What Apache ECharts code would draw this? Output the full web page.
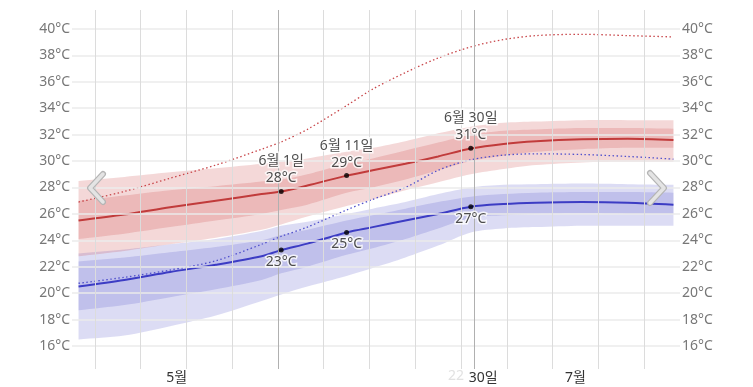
<!DOCTYPE html>
<html><head><meta charset="utf-8">
<script src="https://cdn.jsdelivr.net/npm/echarts@6/dist/echarts.min.js"></script>
<style>html,body{margin:0;padding:0;background:#fff}#c{width:753px;height:387px}</style>
</head><body><div id="c"></div>
<script>
// day index: 0 = 5월 1일
const days      = [0,7,14,21,28,31,35,41,45,50,55,60,65,70,77,84,91];
const highAvg   = [25.5,25.95,26.5,27.0,27.5,27.7,28.15,28.9,29.3,29.8,30.35,30.95,31.3,31.5,31.65,31.7,31.6];
const highP90   = [28.5,28.8,29.15,29.45,29.8,29.95,30.2,30.7,31.0,31.5,32.1,32.6,32.9,33.0,33.1,33.1,33.1];
const highP75   = [27.0,27.4,27.8,28.1,28.45,28.6,29.0,29.8,30.2,30.8,31.4,32.0,32.3,32.4,32.5,32.5,32.45];
const highP25   = [24.1,24.5,25.0,25.5,26.0,26.3,26.7,27.6,28.0,28.6,29.3,30.0,30.4,30.7,30.9,31.0,31.0];
const highP10   = [22.8,23.2,23.7,24.2,24.8,25.2,25.8,26.6,27.1,27.8,28.4,29.0,29.4,29.7,29.9,29.95,29.95];
const highFeel  = [26.9,27.7,28.7,29.7,30.9,31.45,32.4,34.2,35.45,36.7,37.8,38.65,39.2,39.5,39.6,39.5,39.4];
const lowAvg    = [20.5,21.0,21.6,22.15,22.8,23.26,23.75,24.6,25.0,25.5,26.0,26.55,26.75,26.85,26.9,26.85,26.7];
const lowP90    = [23.0,23.3,23.7,24.1,24.7,25.1,25.4,26.0,26.4,26.9,27.5,28.0,28.2,28.25,28.3,28.25,28.2];
const lowP75    = [22.4,22.7,23.1,23.5,24.0,24.4,24.8,25.5,25.9,26.4,26.9,27.3,27.5,27.6,27.65,27.65,27.6];
const lowP25    = [18.7,19.1,19.7,20.3,21.0,21.5,22.0,22.9,23.4,24.1,24.9,25.7,25.9,26.0,26.05,26.0,26.0];
const lowP10    = [16.5,16.8,17.5,18.3,19.4,19.9,20.5,21.3,21.9,22.7,23.6,24.6,24.9,25.0,25.1,25.1,25.1];
const lowFeel   = [20.75,21.2,21.75,22.45,23.7,24.3,25.0,26.3,27.1,28.0,29.3,30.1,30.45,30.55,30.5,30.35,30.15];
const markerDays  = [31,41,60];
const markerNames = ['6월 1일','6월 11일','6월 30일'];
const markerHigh  = [27.7,28.9,30.98];
const markerLow   = [23.26,24.6,26.54];
const yTicks = [16,18,20,22,24,26,28,30,32,34,36,38,40];
const weekLines = [2.5,9.5,16.5,23.5,37.5,44.5,51.5,58.5,65.5,72.5,79.5,86.5];
const monthLines = [30.5,60.5];
const xLabelDays = [15,61.9,76];
const xLabelText = ['5월','30일','7월'];

const FONT = '"Noto Sans","Noto Sans CJK KR",sans-serif';
const pts = a => days.map((d,i)=>[d,a[i]]);
const SMOOTH = 0.3;

// bezier path through pixel points, same idea as the line series' smooth option
function smoothSeg(P){
  let s = '';
  for (let i=0;i<P.length-1;i++){
    const a=P[i], b=P[i+1], pa=P[i-1]||a, nb=P[i+2]||b;
    const cp1 = ctrl(pa,a,b,false), cp2 = ctrl(a,b,nb,true);
    s += ` C${cp1[0]},${cp1[1]} ${cp2[0]},${cp2[1]} ${b[0]},${b[1]}`;
  }
  return s;
}
function ctrl(prev,cur,next,before){
  const vx=next[0]-prev[0], vy=next[1]-prev[1];
  const d0=Math.hypot(cur[0]-prev[0],cur[1]-prev[1]), d1=Math.hypot(next[0]-cur[0],next[1]-cur[1]);
  const sum=d0+d1||1;
  if (before){ const r=d0/sum; return [cur[0]-vx*SMOOTH*r, cur[1]-vy*SMOOTH*r]; }
  const r=d1/sum; return [cur[0]+vx*SMOOTH*r, cur[1]+vy*SMOOTH*r];
}
function band(lo, hi, color){
  return {
    type:'custom', z:2, silent:true,
    data: days.map((d,i)=>[d, lo[i], hi[i]]),
    renderItem:(params, api)=>{
      if (params.dataIndex !== 0) return null;
      const up = days.map((d,i)=>api.coord([d, hi[i]]));
      const dnR = days.map((d,i)=>api.coord([d, lo[i]])).reverse();
      const path = `M${up[0][0]},${up[0][1]}` + smoothSeg(up) + ` L${dnR[0][0]},${dnR[0][1]}` + smoothSeg(dnR) + ' Z';
      return {type:'path', shape:{pathData:path}, style:{fill:color, stroke:null}};
    }
  };
}

const chart = echarts.init(document.getElementById('c'), null, {renderer:'canvas'});
const yAxisBase = {
  type:'value', min:14.2586, max:41.4385,
  axisLine:{show:false}, axisTick:{show:false}, splitLine:{show:false},
};
chart.setOption({
  animation:false,
  grid:{left:72, right:73, top:10, bottom:18},
  xAxis:{type:'value', min:-1, max:92, axisLine:{show:false}, axisTick:{show:false}, splitLine:{show:false},
    axisLabel:{customValues:xLabelDays, margin:2, fontSize:14, color:'#333', fontFamily:FONT,
      formatter:v=>{const i=xLabelDays.findIndex(d=>Math.abs(d-v)<0.01);return i>=0?xLabelText[i]:'';}}},
  yAxis:[
    Object.assign({}, yAxisBase, {position:'left', axisLabel:{customValues:yTicks, margin:2, fontSize:14, color:'#777', fontFamily:FONT, formatter:v=>v+'°C'}}),
    Object.assign({}, yAxisBase, {position:'right', axisLabel:{customValues:yTicks, margin:2, fontSize:14, color:'#777', fontFamily:FONT, formatter:v=>v+'°C'}})
  ],
  series:[
    {type:'line', data:[], z:0, silent:true,
      markLine:{silent:true, symbol:'none', animation:false, label:{show:false},
        lineStyle:{color:'#ebebeb', width:1.5, type:'solid'},
        data: yTicks.map(v=>({yAxis:v}))}},
    {type:'line', data:[], z:0, silent:true,
      markLine:{silent:true, symbol:'none', animation:false, label:{show:false},
        lineStyle:{color:'#dcdcdc', width:1, type:'solid'},
        data: weekLines.map(v=>({xAxis:v}))}},
    {type:'line', data:[], z:0, silent:true,
      markLine:{silent:true, symbol:'none', animation:false, label:{show:false},
        lineStyle:{color:'#b0b0b0', width:1, type:'solid'},
        data: monthLines.map(v=>({xAxis:v}))}},
    band(lowP10, lowP90, 'rgba(60,60,195,0.18)'),
    band(lowP25, lowP75, 'rgba(60,60,195,0.18)'),
    band(highP10, highP90, 'rgba(200,60,60,0.2)'),
    band(highP25, highP75, 'rgba(200,60,60,0.2)'),
    {type:'line', data:pts(highFeel), symbol:'none', smooth:SMOOTH, z:3, lineStyle:{color:'#c8464a', width:1.3, type:[1.5,2.5]}},
    {type:'line', data:pts(lowFeel), symbol:'none', smooth:SMOOTH, z:3, lineStyle:{color:'#5050cc', width:1.3, type:[1.5,2.5]}},
    {type:'line', data:pts(highAvg), symbol:'none', smooth:SMOOTH, z:4, lineStyle:{color:'#c13b3b', width:2}},
    {type:'line', data:pts(lowAvg), symbol:'none', smooth:SMOOTH, z:4, lineStyle:{color:'#3c3cc4', width:2}},
    {type:'scatter', z:6, symbolSize:5, itemStyle:{color:'#000'},
      data: markerDays.map((d,i)=>({value:[d,markerHigh[i]], name:markerNames[i]})),
      label:{show:true, position:'top', distance:2, fontSize:14, lineHeight:17, color:'#222', fontFamily:FONT,
        textBorderColor:'#fff', textBorderWidth:3,
        formatter:p=>p.name+'\n'+Math.round(p.value[1])+'°C'}},
    {type:'scatter', z:6, symbolSize:5, itemStyle:{color:'#000'},
      data: markerDays.map((d,i)=>({value:[d,markerLow[i]], name:markerNames[i]})),
      label:{show:true, position:'bottom', distance:1, fontSize:14, lineHeight:17, color:'#222', fontFamily:FONT,
        textBorderColor:'#fff', textBorderWidth:3,
        formatter:p=>Math.round(p.value[1])+'°C'}}
  ],
  graphic:[
    {type:'text', left:448, top:369, z:1, style:{text:'22', font:'14px '+FONT, fill:'#e2e2e2'}},
    {type:'polyline', z:10, shape:{points:[[103,174],[90,188],[103,202]]}, style:{stroke:'#b5b5b5', lineWidth:6, fill:null, lineCap:'round', lineJoin:'round'}},
    {type:'polyline', z:11, shape:{points:[[103,174],[90,188],[103,202]]}, style:{stroke:'#e4e4e4', lineWidth:3.5, fill:null, lineCap:'round', lineJoin:'round'}},
    {type:'polyline', z:10, shape:{points:[[650,173],[664,188],[650,203]]}, style:{stroke:'#b5b5b5', lineWidth:6, fill:null, lineCap:'round', lineJoin:'round'}},
    {type:'polyline', z:11, shape:{points:[[650,173],[664,188],[650,203]]}, style:{stroke:'#e4e4e4', lineWidth:3.5, fill:null, lineCap:'round', lineJoin:'round'}}
  ]
});
</script></body></html>
